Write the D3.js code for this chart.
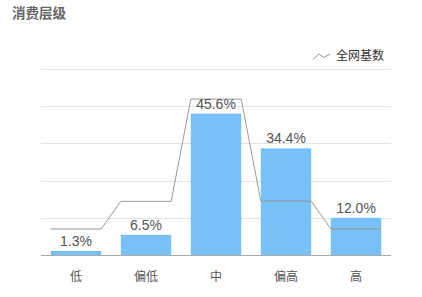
<!DOCTYPE html>
<html><head><meta charset="utf-8">
<script src="https://cdn.jsdelivr.net/npm/d3@7"></script>
<style>html,body{margin:0;padding:0;background:#fff;}svg{display:block;}</style>
</head><body>
<svg id="c" width="422" height="297"></svg>
<script>
const categories = ["低", "偏低", "中", "偏高", "高"];
const shareValues = [1.3, 6.5, 45.6, 34.4, 12.0];
const baseValues = [8.4, 17.3, 50.3, 17.4, 8.4];
const yTicks = [0, 12, 24, 36, 48, 60];
const title = "消费层级";
const legendLabel = "全网基数";

const font = "'Microsoft YaHei','Noto Sans CJK SC',sans-serif";
const svg = d3.select("#c");
const x = d3.scaleBand().domain(categories).range([41, 391]).paddingInner(0.28).paddingOuter(0.14);
const y = d3.scaleLinear().domain([0, 60]).range([255, 69]);

svg.append("text").attr("x", 12).attr("y", 18).attr("font-family", font)
  .attr("font-size", 13.5).attr("font-weight", "bold").attr("fill", "#666").text(title);

// grid
svg.append("g").selectAll("line").data(yTicks.filter(t => t > 0)).join("line")
  .attr("x1", 41).attr("x2", 391).attr("y1", d => Math.round(y(d)) + 0.5).attr("y2", d => Math.round(y(d)) + 0.5)
  .attr("stroke", "#e3e3e3").attr("stroke-width", 1);

// bars
svg.append("g").selectAll("rect").data(categories).join("rect")
  .attr("x", d => x(d)).attr("width", x.bandwidth())
  .attr("y", (d, i) => y(shareValues[i])).attr("height", (d, i) => y(0) - y(shareValues[i]))
  .attr("fill", "#78c1f8");

// baseline axis
const xAxis = d3.axisBottom(x).tickSize(0).tickPadding(17);
const ax = svg.append("g").attr("transform", `translate(0,${y(0)})`).call(xAxis);
ax.select(".domain").attr("stroke", "#aaa").attr("d", "M41,0.5H391");
ax.selectAll("text").attr("font-family", font).attr("font-size", 12).attr("fill", "#555");

// line
const pts = [];
categories.forEach((c, i) => { pts.push([x(c), y(baseValues[i])]); pts.push([x(c) + x.bandwidth(), y(baseValues[i])]); });
svg.append("path").attr("d", d3.line()(pts)).attr("fill", "none").attr("stroke", "#999").attr("stroke-width", 1);

// labels
svg.append("g").selectAll("text").data(categories).join("text")
  .attr("x", d => x(d) + x.bandwidth() / 2).attr("y", (d, i) => y(shareValues[i]) - 5)
  .attr("text-anchor", "middle").attr("font-family", "Arial,'Liberation Sans',sans-serif")
  .attr("font-size", 14).attr("fill", "#555").text((d, i) => shareValues[i].toFixed(1) + "%");

// legend
svg.append("path").attr("d", "M313,59.5L319,54L324,57.5L330,54").attr("fill", "none").attr("stroke", "#999").attr("stroke-width", 1);
svg.append("text").attr("x", 336).attr("y", 60).attr("font-family", font).attr("font-size", 12)
  .attr("fill", "#333").text(legendLabel);
</script>
</body></html>
